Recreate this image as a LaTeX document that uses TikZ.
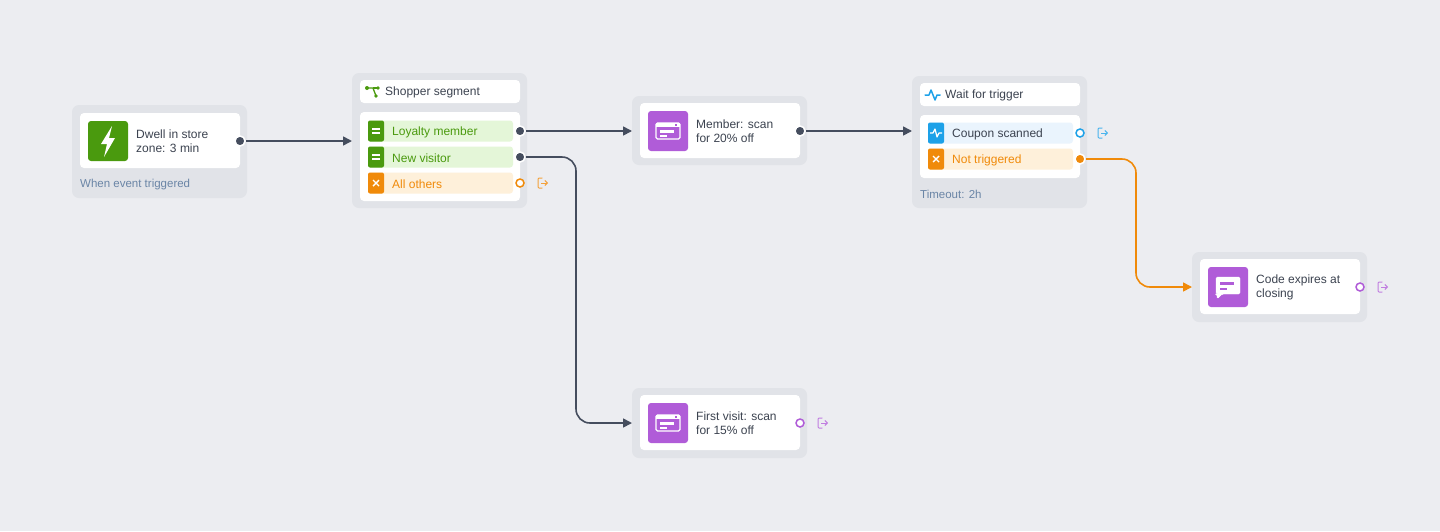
\documentclass[tikz,border=0pt]{standalone}
\usepackage{fontspec}
\setmainfont{Liberation Sans}
\usetikzlibrary{arrows.meta}
\definecolor{bg}{HTML}{ECEDF1}
\definecolor{outer}{HTML}{E1E3E8}
\definecolor{ink}{HTML}{3C4350}
\definecolor{gr}{HTML}{4A9A0E}
\definecolor{grf}{HTML}{E4F6D8}
\definecolor{og}{HTML}{F08A0A}
\definecolor{ogf}{HTML}{FEF0DA}
\definecolor{bl}{HTML}{1DA1E8}
\definecolor{blf}{HTML}{EAF4FD}
\definecolor{pu}{HTML}{B05CD8}
\definecolor{foot}{HTML}{6A85A6}
\definecolor{edge}{HTML}{454D5E}
\tikzset{
 card/.style={fill=outer,rounded corners=7pt,draw=none,inner sep=0pt},
 inner/.style={fill=white,rounded corners=4pt,draw=none,inner sep=0pt},
 ico/.style={rounded corners=3pt,draw=none,inner sep=0pt,minimum width=40pt,minimum height=40pt},
 lbl/.style={font=\fontsize{12}{14}\selectfont,text=ink,align=left,anchor=west,inner sep=0pt,yshift=-0.5pt},
 rowlbl/.style={font=\fontsize{12}{13}\selectfont,anchor=west,inner sep=0pt,yshift=-1pt},
 foottxt/.style={font=\fontsize{11.5}{13}\selectfont,text=foot,anchor=west,inner sep=0pt,yshift=-1pt},
 port/.style={circle,fill=edge,draw=white,line width=1.5pt,minimum size=10pt,inner sep=0pt},
 hport/.style={circle,fill=white,draw=#1,line width=1.5pt,minimum size=8pt,inner sep=0pt},
 conn/.style={draw=edge,line width=1.6pt,-{Triangle[length=9pt,width=9pt]},rounded corners=14pt},
}
\newcommand{\rowbox}[5]{% name, y, fill, col, text
 \node[fill=#3,rounded corners=3pt,minimum width=145pt,minimum height=21pt,inner sep=0pt] (#1) at (440.5,#2) {};
 \node[fill=#4,rounded corners=2pt,minimum width=16pt,minimum height=21pt,inner sep=0pt] (#1i) at (376,#2) {};
 \node[rowlbl,text=#4] (#1t) at (392,#2) {#5};}
\newcommand{\exiticon}[3]{% name,x,y color
 \begin{scope}[shift={(#2,#3)}]
 \draw[#1!80,line width=1pt,line cap=round,line join=round,rounded corners=1pt] (-1,-5)--(-5,-5)--(-5,5)--(-1,5);
 \draw[#1!80,line width=1pt,-{Straight Barb[length=2.5pt,width=5pt]}] (-2,0)--(5,0);
 \end{scope}}
\begin{document}
\begin{tikzpicture}[x=1pt,y=-1pt]
\fill[bg] (0,0) rectangle (1440,531);
\useasboundingbox (0,0) rectangle (1440,531);
% Trigger
\node[card,minimum width=175pt,minimum height=93pt] (trg) at (159.5,151.5) {};
\node[inner,minimum width=160pt,minimum height=55pt] (trgin) at (160,140.5) {};
\node[ico,fill=gr] (trgic) at (108,141) {};
\fill[white] (112,126)--(101,144)--(107,144)--(104,157)--(115,138)--(109,138)--cycle;
\node[lbl] (trgt) at (136,141) {Dwell in store\\zone: 3 min};
\node[foottxt] (trgf) at (80,184) {When event triggered};
% Segment
\node[card,minimum width=175pt,minimum height=135pt] (seg) at (439.5,140.5) {};
\node[inner,minimum width=160pt,minimum height=23pt] (seghd) at (440,91.5) {};
\node[inner,minimum width=160pt,minimum height=89pt] (segbd) at (440,156.5) {};
\begin{scope}[gr,line width=1.3pt]
\draw (367,88)--(373,88)--(376,96); \draw (373,88) -- (378,88);
\fill (367,88) circle (2pt); \fill (378,88) circle (1.8pt); \fill (376,96) circle (1.8pt);
\end{scope}
\node[lbl] (segt) at (385,92) {Shopper segment};
\rowbox{r1}{131}{grf}{gr}{Loyalty member}
\rowbox{r2}{157}{grf}{gr}{New visitor}
\rowbox{r3}{183}{ogf}{og}{All others}
\foreach \n in {r1i,r2i}{\draw[white,line width=1.3pt] ([xshift=-4pt,yshift=2pt]\n.center)--++(8pt,0) ([xshift=-4pt,yshift=-2pt]\n.center)--++(8pt,0);}
\draw[white,line width=1.4pt] ([shift={(-3pt,-3pt)}]r3i.center)--++(6pt,6pt) ([shift={(-3pt,3pt)}]r3i.center)--++(6pt,-6pt);
\node[hport=og] (p4) at (520,183) {};
\exiticon{og}{543}{183}
% Member
\node[card,minimum width=175pt,minimum height=69pt] (mem) at (719.5,130.5) {};
\node[inner,minimum width=160pt,minimum height=55pt] (memin) at (720,130.5) {};
\node[ico,fill=pu] (memic) at (668,131) {};
\node[lbl] (memt) at (696,131) {Member: scan\\for 20\% off};
% First visit
\node[card,minimum width=175pt,minimum height=70pt] (fv) at (719.5,423) {};
\node[inner,minimum width=160pt,minimum height=55pt] (fvin) at (720,422.5) {};
\node[ico,fill=pu] (fvic) at (668,423) {};
\node[lbl] (fvt) at (696,423) {First visit: scan\\for 15\% off};
\node[hport=pu] (p6) at (800,423) {};
\exiticon{pu}{823}{423}
\foreach \c in {131,423}{
 \draw[white,line width=1.3pt,rounded corners=1.5pt] (656,\c-8) rectangle (680,\c+8);
 \fill[white] (656,\c-8) rectangle (680,\c-4);
 \fill[pu] (675,\c-7) rectangle (677,\c-5);
 \fill[white] (660,\c-1) rectangle (674,\c+1.5);
 \fill[white] (660,\c+3.5) rectangle (667,\c+6);
}
% Wait
\node[card,minimum width=175pt,minimum height=132pt] (wt) at (999.5,142) {};
\node[inner,minimum width=160pt,minimum height=23pt] (wthd) at (1000,94.5) {};
\node[inner,minimum width=160pt,minimum height=63pt] (wtbd) at (1000,146.5) {};
\draw[bl,line width=1.5pt,line join=round,line cap=round] (925,95)--(929,95)--(931,90)--(935,100)--(937,95)--(940,95);
\node[lbl] (wtt) at (945,95) {Wait for trigger};
\node[fill=blf,rounded corners=3pt,minimum width=145pt,minimum height=21pt,inner sep=0pt] (w1) at (1000.5,133) {};
\node[fill=bl,rounded corners=2pt,minimum width=16pt,minimum height=21pt,inner sep=0pt] (w1i) at (936,133) {};
\draw[white,line width=1.2pt,line join=round] (930,133)--(933,133)--(935,129)--(937,137)--(939,133)--(942,133);
\node[rowlbl,text=ink] (w1t) at (952,133) {Coupon scanned};
\node[fill=ogf,rounded corners=3pt,minimum width=145pt,minimum height=21pt,inner sep=0pt] (w2) at (1000.5,159) {};
\node[fill=og,rounded corners=2pt,minimum width=16pt,minimum height=21pt,inner sep=0pt] (w2i) at (936,159) {};
\draw[white,line width=1.4pt] (933,156)--(939,162) (933,162)--(939,156);
\node[rowlbl,text=og] (w2t) at (952,159) {Not triggered};
\node[foottxt] (wtf) at (920,193) {Timeout: 2h};
\node[hport=bl] (p7) at (1080,133) {};
\exiticon{bl}{1103}{133}
% Code
\node[card,minimum width=175pt,minimum height=70pt] (cd) at (1279.5,287) {};
\node[inner,minimum width=160pt,minimum height=55pt] (cdin) at (1280,286.5) {};
\node[ico,fill=pu] (cdic) at (1228,287) {};
\draw[white,fill=white,rounded corners=1.5pt] (1216,277)--(1240,277)--(1240,294)--(1222,294)--(1217,299)--(1217,294)--(1216,294)--cycle;
\fill[pu] (1220,282) rectangle (1234,284.5);
\fill[pu] (1220,287.5) rectangle (1227,290);
\node[lbl] (cdt) at (1256,287) {Code expires at\\closing};
\node[hport=pu] (p9) at (1360,287) {};
\exiticon{pu}{1383}{287}
% Connectors
\node[port] (p1) at (240,141) {};
\node[port] (p2) at (520,131) {};
\node[port] (p3) at (520,157) {};
\node[port] (p5) at (800,131) {};
\node[circle,fill=og,draw=white,line width=1.5pt,minimum size=10pt,inner sep=0pt] (p8) at (1080,159) {};
\coordinate (a1) at (352,141);
\coordinate (a2) at (632,131);
\coordinate (a3) at (632,423);
\coordinate (a4) at (912,131);
\coordinate (a5) at (1192,287);
\begin{scope}[on background layer/.style={}]
\draw[conn] (p1) -- (a1);
\draw[conn] (p2) -- (a2);
\draw[conn] (p3) -- (576,157) -- (576,423) -- (a3);
\draw[conn] (p5) -- (a4);
\draw[conn,draw=og,-{Triangle[length=9pt,width=9pt,fill=og]}] (p8) -- (1136,159) -- (1136,287) -- (a5);
\end{scope}
\end{tikzpicture}
\end{document}
